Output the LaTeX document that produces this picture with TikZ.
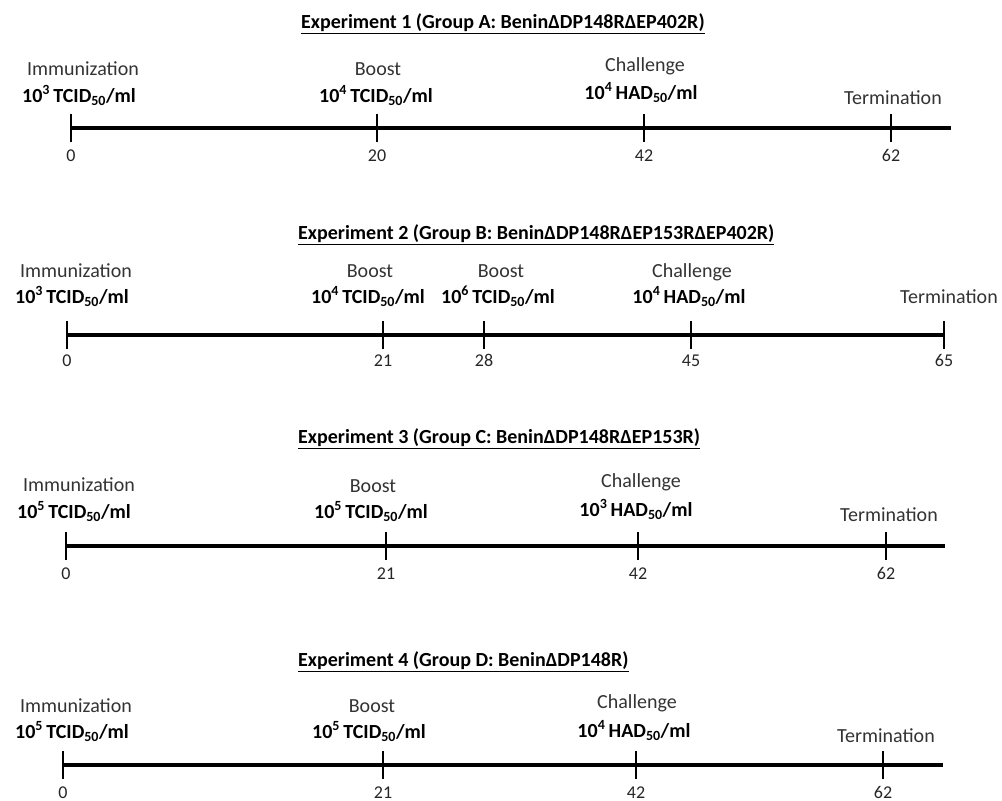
\documentclass[tikz,border=0pt]{standalone}
\usepackage{fontspec}
\setmainfont{Carlito}[Numbers=Lining]
\begin{document}
\begin{tikzpicture}[x=1pt,y=-1pt,
  axis/.style={line width=3.6pt},
  tickmark/.style={line width=2.6pt},
  lbl/.style={inner sep=0pt,text height=14pt,text depth=4pt,font=\fontsize{20}{23}\selectfont,text=black!80},
  dose/.style={inner sep=0pt,text height=14pt,text depth=4pt,font=\fontsize{20}{23}\selectfont\bfseries,text=black},
  num/.style={inner sep=0pt,text height=12pt,text depth=0pt,font=\fontsize{18}{21}\selectfont,text=black!85},
  ttl/.style={inner sep=0pt,anchor=west,font=\fontsize{20}{23}\selectfont\bfseries,text=black}]
\useasboundingbox[fill=white] (0,0) rectangle (1002,801);
\newcommand{\tcid}[1]{10\textsuperscript{#1}\,TCID\textsubscript{50}/ml}
\newcommand{\had}[1]{10\textsuperscript{#1}\,HAD\textsubscript{50}/ml}
% ---------- Experiment 1
\node[ttl] (t1) at (301,24) {\underline{Experiment 1 (Group A: BeninΔDP148RΔEP402R)}};
\coordinate (a0) at (71,128); \coordinate (a1) at (377,128);
\coordinate (a2) at (644,128); \coordinate (a3) at (891,128);
\coordinate (ae) at (951,128);
\draw[axis] (a0) -- (ae);
\foreach \c in {a0,a1,a2,a3} {\draw[tickmark] ([yshift=14pt]\c) -- ([yshift=-14pt]\c);}
\node[lbl] (a0l) at (83,70) {Immunization};
\node[dose] (a0d) at (79,97) {\tcid{3}};
\node[lbl] (a1l) at (378,70) {Boost};
\node[dose] (a1d) at (376,97) {\tcid{4}};
\node[lbl] (a2l) at (645,66) {Challenge};
\node[dose] (a2d) at (641,94) {\had{4}};
\node[lbl] (a3l) at (893,99) {Termination};
\node[num] (a0n) at (71,155) {0};
\node[num] (a1n) at (377,155) {20};
\node[num] (a2n) at (644,155) {42};
\node[num] (a3n) at (891,155) {62};
% ---------- Experiment 2
\node[ttl] (t2) at (298,235) {\underline{Experiment 2 (Group B: BeninΔDP148RΔEP153RΔEP402R)}};
\coordinate (b0) at (67,335); \coordinate (b1) at (383,335);
\coordinate (b2) at (484,335); \coordinate (b3) at (691,335);
\coordinate (b4) at (944,335);
\draw[axis] (b0) -- (b4);
\foreach \c in {b0,b1,b2,b3,b4} {\draw[tickmark] ([yshift=14pt]\c) -- ([yshift=-14pt]\c);}
\node[lbl] (b0l) at (76,272) {Immunization};
\node[dose] (b0d) at (72,298) {\tcid{3}};
\node[lbl] (b1l) at (370,272) {Boost};
\node[dose] (b1d) at (368,298) {\tcid{4}};
\node[lbl] (b2l) at (501,272) {Boost};
\node[dose] (b2d) at (498,298) {\tcid{6}};
\node[lbl] (b3l) at (692,272) {Challenge};
\node[dose] (b3d) at (689,298) {\had{4}};
\node[lbl] (b4l) at (949,298) {Termination};
\node[num] (b0n) at (67,360) {0};
\node[num] (b1n) at (383,360) {21};
\node[num] (b2n) at (484,360) {28};
\node[num] (b3n) at (691,360) {45};
\node[num] (b4n) at (944,360) {65};
% ---------- Experiment 3
\node[ttl] (t3) at (298,439) {\underline{Experiment 3 (Group C: BeninΔDP148RΔEP153R)}};
\coordinate (c0) at (66,546); \coordinate (c1) at (386,546);
\coordinate (c2) at (638,546); \coordinate (c3) at (886,546);
\coordinate (ce) at (945,546);
\draw[axis] (c0) -- (ce);
\foreach \c in {c0,c1,c2,c3} {\draw[tickmark] ([yshift=14pt]\c) -- ([yshift=-14pt]\c);}
\node[lbl] (c0l) at (79,486) {Immunization};
\node[dose] (c0d) at (74,513) {\tcid{5}};
\node[lbl] (c1l) at (373,487) {Boost};
\node[dose] (c1d) at (371,513) {\tcid{5}};
\node[lbl] (c2l) at (641,482) {Challenge};
\node[dose] (c2d) at (636,511) {\had{3}};
\node[lbl] (c3l) at (889,516) {Termination};
\node[num] (c0n) at (66,573) {0};
\node[num] (c1n) at (386,573) {21};
\node[num] (c2n) at (638,573) {42};
\node[num] (c3n) at (886,573) {62};
% ---------- Experiment 4
\node[ttl] (t4) at (298,662) {\underline{Experiment 4 (Group D: BeninΔDP148R)}};
\coordinate (d0) at (63,765); \coordinate (d1) at (383,765);
\coordinate (d2) at (636,765); \coordinate (d3) at (883,765);
\coordinate (de) at (943,765);
\draw[axis] (d0) -- (de);
\foreach \c in {d0,d1,d2,d3} {\draw[tickmark] ([yshift=14pt]\c) -- ([yshift=-14pt]\c);}
\node[lbl] (d0l) at (76,707) {Immunization};
\node[dose] (d0d) at (72,733) {\tcid{5}};
\node[lbl] (d1l) at (372,707) {Boost};
\node[dose] (d1d) at (369,733) {\tcid{5}};
\node[lbl] (d2l) at (637,703) {Challenge};
\node[dose] (d2d) at (634,732) {\had{4}};
\node[lbl] (d3l) at (886,737) {Termination};
\node[num] (d0n) at (63,792) {0};
\node[num] (d1n) at (383,792) {21};
\node[num] (d2n) at (636,792) {42};
\node[num] (d3n) at (883,792) {62};
\end{tikzpicture}
\end{document}
